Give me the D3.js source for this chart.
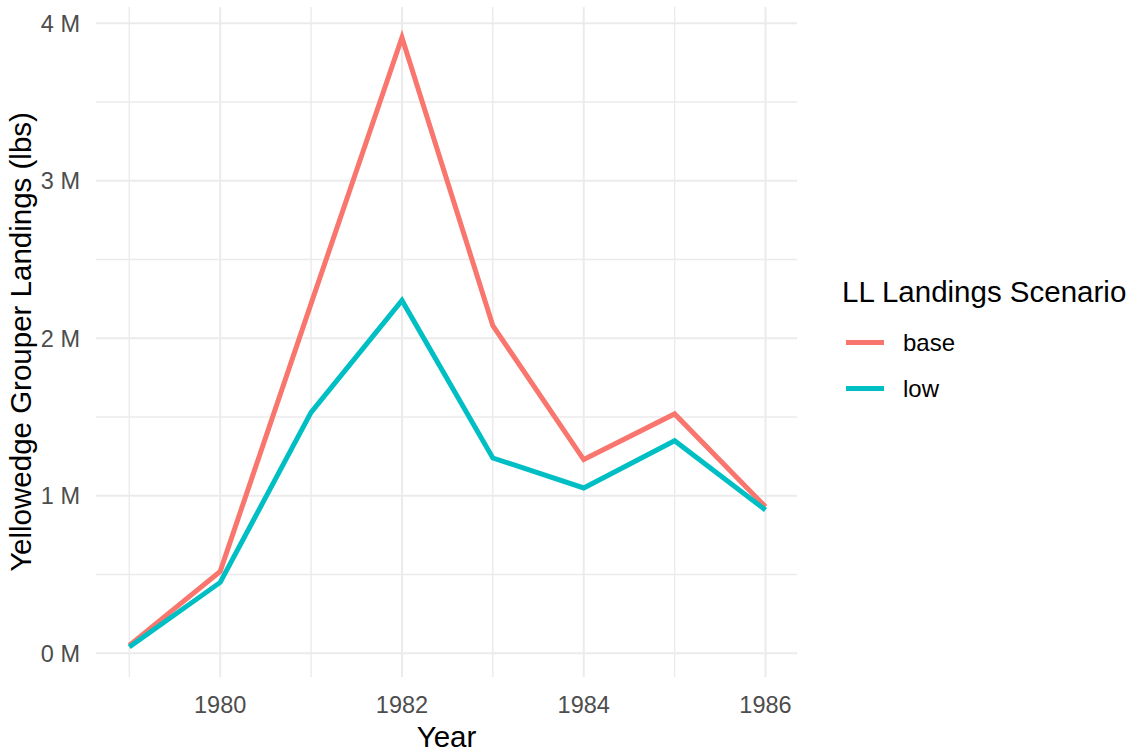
<!DOCTYPE html>
<html>
<head>
<meta charset="utf-8">
<script src="https://cdn.jsdelivr.net/npm/d3@7"></script>
<style>
  html, body { margin: 0; padding: 0; background: #fff; }
  svg { display: block; font-family: "Liberation Sans", Arial, sans-serif; }
</style>
</head>
<body>
<svg id="chart" width="1133" height="753"></svg>
<script>
const years = [1979, 1980, 1981, 1982, 1983, 1984, 1985, 1986];
const baseValues = [0.05e6, 0.52e6, 2.22e6, 3.91e6, 2.08e6, 1.23e6, 1.52e6, 0.93e6];
const lowValues  = [0.04e6, 0.45e6, 1.53e6, 2.24e6, 1.24e6, 1.05e6, 1.35e6, 0.91e6];
const seriesNames = ["base", "low"];
const seriesColors = ["#F8766D", "#00BFC4"];
const yMajorTicks = [0, 1e6, 2e6, 3e6, 4e6];
const yMinorTicks = [0.5e6, 1.5e6, 2.5e6, 3.5e6];
const xMajorTicks = [1980, 1982, 1984, 1986];
const xMinorTicks = [1979, 1981, 1983, 1985];
const xTitle = "Year";
const yTitle = "Yellowedge Grouper Landings (lbs)";
const legendTitle = "LL Landings Scenario";

const svg = d3.select("#chart");
const panel = { left: 96, right: 797, top: 7, bottom: 677 };

const x = d3.scaleLinear().domain([1979, 1986]).range([129.3, 765.5]);
const y = d3.scaleLinear().domain([0, 4e6]).range([653.3, 23.3]);

const grid = svg.append("g");
grid.selectAll(".ymin").data(yMinorTicks).join("line")
  .attr("x1", panel.left).attr("x2", panel.right)
  .attr("y1", d => y(d)).attr("y2", d => y(d))
  .attr("stroke", "#EBEBEB").attr("stroke-width", 1.4);
grid.selectAll(".xmin").data(xMinorTicks).join("line")
  .attr("y1", panel.top).attr("y2", panel.bottom)
  .attr("x1", d => x(d)).attr("x2", d => x(d))
  .attr("stroke", "#EBEBEB").attr("stroke-width", 1.4);
grid.selectAll(".ymaj").data(yMajorTicks).join("line")
  .attr("x1", panel.left).attr("x2", panel.right)
  .attr("y1", d => y(d)).attr("y2", d => y(d))
  .attr("stroke", "#EBEBEB").attr("stroke-width", 2);
grid.selectAll(".xmaj").data(xMajorTicks).join("line")
  .attr("y1", panel.top).attr("y2", panel.bottom)
  .attr("x1", d => x(d)).attr("x2", d => x(d))
  .attr("stroke", "#EBEBEB").attr("stroke-width", 2);

svg.append("g").selectAll("text").data(yMajorTicks).join("text")
  .attr("x", 80).attr("y", d => y(d)).attr("dy", "0.35em")
  .attr("text-anchor", "end").attr("fill", "#4D4D4D")
  .style("font-size", "23.5px")
  .text(d => (d / 1e6) + " M");

svg.append("g").selectAll("text").data(xMajorTicks).join("text")
  .attr("x", d => x(d)).attr("y", 713)
  .attr("text-anchor", "middle").attr("fill", "#4D4D4D")
  .style("font-size", "23.5px")
  .text(d => d);

svg.append("text")
  .attr("x", (panel.left + panel.right) / 2).attr("y", 747)
  .attr("text-anchor", "middle").attr("fill", "#000")
  .style("font-size", "29.5px").text(xTitle);
svg.append("text")
  .attr("transform", `translate(31,${(panel.top + panel.bottom) / 2}) rotate(-90)`)
  .attr("text-anchor", "middle").attr("fill", "#000")
  .style("font-size", "29.5px").text(yTitle);

const series = [baseValues, lowValues];
const line = d3.line().x((d, i) => x(years[i])).y(d => y(d));
svg.append("g").selectAll("path").data(series).join("path")
  .attr("d", d => line(d))
  .attr("fill", "none")
  .attr("stroke", (d, i) => seriesColors[i])
  .attr("stroke-width", 5)
  .attr("stroke-linejoin", "miter")
  .attr("stroke-linecap", "butt");

const lg = svg.append("g");
lg.append("text").attr("x", 842).attr("y", 302)
  .attr("fill", "#000").style("font-size", "29.5px").text(legendTitle);
const items = lg.selectAll("g.item").data(seriesNames).join("g")
  .attr("transform", (d, i) => `translate(0,${342.5 + i * 46})`);
items.append("line").attr("x1", 846).attr("x2", 884).attr("y1", 0).attr("y2", 0)
  .attr("stroke", (d, i) => seriesColors[i]).attr("stroke-width", 5);
items.append("text").attr("x", 903).attr("y", 0).attr("dy", "0.35em")
  .attr("fill", "#000").style("font-size", "24px").text(d => d);
</script>
</body>
</html>
